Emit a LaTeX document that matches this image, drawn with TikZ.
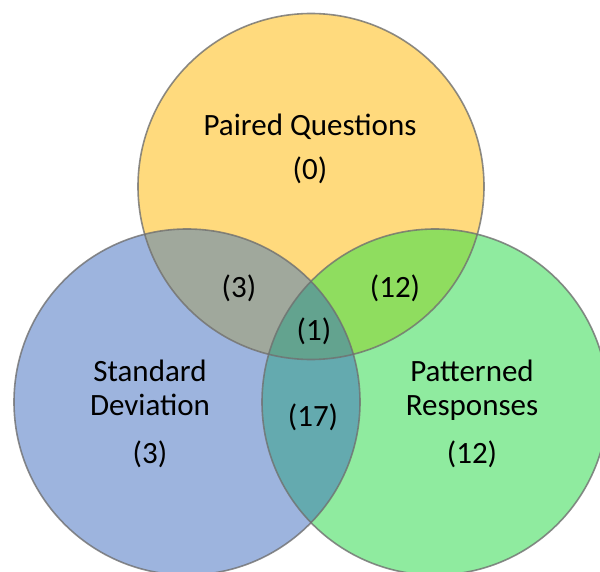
\documentclass[tikz,border=0pt]{standalone}
\usepackage{fontspec}
\setmainfont{Carlito}
\begin{document}
\begin{tikzpicture}[x=1pt,y=-1pt]
  % set colours: single sets and their overlaps
  \definecolor{pqfill}{HTML}{FFDA7D}
  \definecolor{sdfill}{HTML}{9DB4DE}
  \definecolor{prfill}{HTML}{8FEB9F}
  \definecolor{pqsd}{HTML}{A0A89C}
  \definecolor{pqpr}{HTML}{8FDD5F}
  \definecolor{sdpr}{HTML}{64AAAF}
  \definecolor{allthree}{HTML}{63A38F}
  \definecolor{rim}{HTML}{707070}
  \tikzset{
    rimline/.style={draw=rim, line width=1.6, draw opacity=0.8},
    lbl/.style={anchor=base, inner sep=0pt, font=\fontsize{31}{36}\selectfont, text=black}
  }
  \useasboundingbox (0,0) rectangle (600,572);
  \def\R{173}
  \coordinate (cPQ) at (311,186.5);
  \coordinate (cSD) at (187,402);
  \coordinate (cPR) at (435,402);

  % base discs
  \fill[sdfill] (cSD) circle (\R);
  \fill[prfill] (cPR) circle (\R);
  \fill[pqfill] (cPQ) circle (\R);
  % pairwise overlaps
  \begin{scope}
    \clip (cPQ) circle (\R);
    \fill[pqsd] (cSD) circle (\R);
    \fill[pqpr] (cPR) circle (\R);
  \end{scope}
  \begin{scope}
    \clip (cSD) circle (\R);
    \fill[sdpr] (cPR) circle (\R);
    \clip (cPR) circle (\R);
    \fill[allthree] (cPQ) circle (\R);
  \end{scope}
  % outlines
  \draw[rimline] (cPQ) circle (\R);
  \draw[rimline] (cSD) circle (\R);
  \draw[rimline] (cPR) circle (\R);

  % labels
  \node[lbl] (pq)  at (310,136) {Paired Questions};
  \node[lbl] (pqn) at (310,180) {(0)};
  \node[lbl] (sd1) at (150,381) {Standard};
  \node[lbl] (sd2) at (150,415) {Deviation};
  \node[lbl] (sdn) at (150,463) {(3)};
  \node[lbl] (pr1) at (472,381) {Patterned};
  \node[lbl] (pr2) at (472,415) {Responses};
  \node[lbl] (prn) at (472,463) {(12)};
  \node[lbl] (ab)  at (239,298) {(3)};
  \node[lbl] (ac)  at (395,298) {(12)};
  \node[lbl] (abc) at (314,340) {(1)};
  \node[lbl] (bc)  at (313,426) {(17)};
\end{tikzpicture}
\end{document}
